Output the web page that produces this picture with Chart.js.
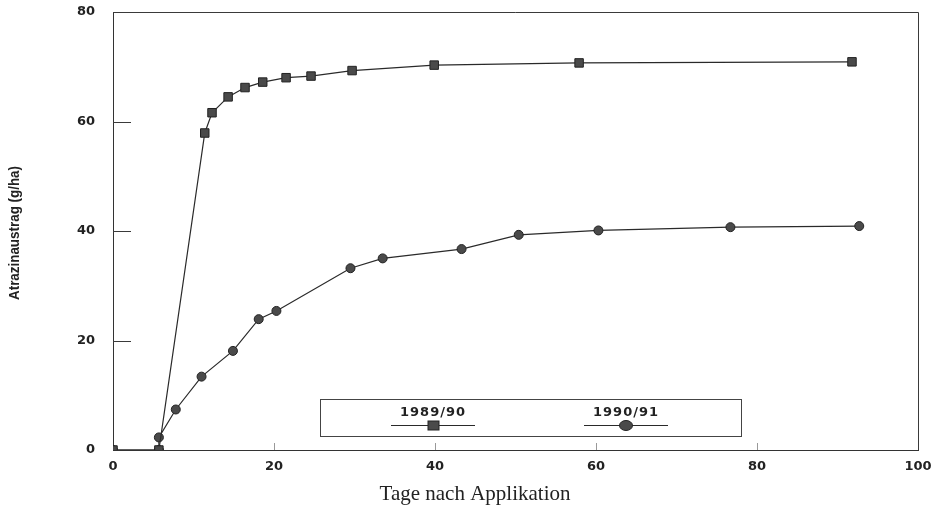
<!DOCTYPE html>
<html><head><meta charset="utf-8">
<script src="https://cdn.jsdelivr.net/npm/chart.js@4.4.1/dist/chart.umd.min.js"></script>
<style>html,body{margin:0;padding:0;background:#fff;}#wrap{width:935px;height:510px;}</style>
</head><body><div id="wrap"><canvas id="c" width="935" height="510"></canvas></div>
<script>
const seriesLabels = ['1989/90', '1990/91'];
const days8990 = [0, 5.7, 11.4, 12.3, 14.3, 16.4, 18.6, 21.5, 24.6, 29.7, 39.9, 57.9, 91.8];
const vals8990 = [0, 0, 57.9, 61.6, 64.5, 66.2, 67.2, 68.0, 68.3, 69.3, 70.3, 70.7, 70.9];
const days9091 = [0, 5.7, 5.7, 7.8, 11.0, 14.9, 18.1, 20.3, 29.5, 33.5, 43.3, 50.4, 60.3, 76.7, 92.7];
const vals9091 = [0, 0, 2.3, 7.4, 13.4, 18.1, 23.9, 25.4, 33.2, 35.0, 36.7, 39.3, 40.1, 40.7, 40.9];
const xTicks = [0, 20, 40, 60, 80, 100];
const yTicks = [0, 20, 40, 60, 80];
const xTitle = 'Tage nach Applikation';
const yTitle = 'Atrazinaustrag (g/ha)';

const pts = (xs, ys) => xs.map((x, i) => ({x: x, y: ys[i]}));
const LINE = '#2a2a2a';

const decor = {
  id: 'decor',
  afterDraw(chart) {
    const ctx = chart.ctx, a = chart.chartArea;
    const xs = chart.scales.x, ys = chart.scales.y;
    ctx.save();
    ctx.strokeStyle = '#3a3a3a'; ctx.lineWidth = 1;
    ctx.beginPath();
    ctx.moveTo(a.left, a.top + 0.5); ctx.lineTo(a.right + 0.5, a.top + 0.5); ctx.lineTo(a.right + 0.5, a.bottom);
    ctx.stroke();
    ctx.beginPath();
    yTicks.forEach(v => { if (v > 0 && v < 80) { const p = Math.round(ys.getPixelForValue(v)) + 0.5; ctx.moveTo(a.left, p); ctx.lineTo(a.left + 18, p); } });
    ctx.stroke();
    ctx.strokeStyle = '#999';
    ctx.beginPath();
    xTicks.forEach(v => { if (v > 0 && v < 100) { const p = Math.round(xs.getPixelForValue(v)) + 0.5; ctx.moveTo(p, a.bottom); ctx.lineTo(p, a.bottom - 7); } });
    ctx.stroke();
    ctx.fillStyle = '#222';
    ctx.font = '21px "Liberation Serif", "Times New Roman", serif';
    ctx.textAlign = 'center'; ctx.textBaseline = 'middle';
    ctx.fillText(xTitle, 475, 494);
    ctx.save();
    ctx.translate(15, 233); ctx.rotate(-Math.PI / 2);
    ctx.font = 'bold 15px "Liberation Sans Narrow", "Arial Narrow", "Liberation Sans", sans-serif';
    const w = ctx.measureText(yTitle).width;
    if (w > 134) ctx.scale(134 / w, 1);
    ctx.fillText(yTitle, 0, 0);
    ctx.restore();
    ctx.strokeStyle = '#444'; ctx.lineWidth = 1;
    ctx.strokeRect(320.5, 399.5, 421, 37);
    const centers = [433, 626];
    chart.data.datasets.forEach((ds, i) => {
      const cx = centers[i];
      ctx.fillStyle = '#222';
      ctx.font = 'bold 13px "DejaVu Sans", sans-serif';
      try { ctx.letterSpacing = '1px'; } catch (e) {}
      ctx.fillText(ds.label, cx, 413);
      try { ctx.letterSpacing = '0px'; } catch (e) {}
      ctx.strokeStyle = LINE; ctx.lineWidth = 1;
      ctx.beginPath(); ctx.moveTo(cx - 42, 425.5); ctx.lineTo(cx + 42, 425.5); ctx.stroke();
      ctx.fillStyle = '#4a4a4a'; ctx.strokeStyle = '#222';
      if (ds.pointStyle === 'rect') {
        ctx.fillRect(cx - 5, 421, 11, 9); ctx.strokeRect(cx - 5, 421, 11, 9);
      } else {
        ctx.beginPath(); ctx.ellipse(cx, 425.5, 6.5, 5, 0, 0, Math.PI * 2); ctx.fill(); ctx.stroke();
      }
    });
    ctx.restore();
  }
};

new Chart(document.getElementById('c'), {
  type: 'line',
  data: {
    datasets: [
      { label: seriesLabels[0], data: pts(days8990, vals8990), borderColor: LINE, borderWidth: 1.2,
        pointStyle: 'rect', pointRadius: 6, pointBackgroundColor: '#4a4a4a', pointBorderColor: '#222', pointBorderWidth: 1, tension: 0 },
      { label: seriesLabels[1], data: pts(days9091, vals9091), borderColor: LINE, borderWidth: 1.2,
        pointStyle: 'circle', pointRadius: 4.5, pointBackgroundColor: '#4a4a4a', pointBorderColor: '#222', pointBorderWidth: 1, tension: 0 }
    ]
  },
  options: {
    responsive: false, animation: false, devicePixelRatio: 1,
    layout: { padding: { top: 12, right: 17, left: 0, bottom: 0 } },
    plugins: { legend: { display: false }, tooltip: { enabled: false } },
    scales: {
      x: { type: 'linear', min: 0, max: 100,
        afterBuildTicks: s => { s.ticks = xTicks.map(v => ({ value: v })); },
        afterFit: s => { s.height = 60; s.paddingLeft = 0; s.paddingRight = 0; },
        grid: { display: false, drawTicks: false },
        border: { display: true, color: '#333', width: 1 },
        ticks: { padding: 9, color: '#222', font: { family: 'DejaVu Sans', size: 13, weight: 'bold' }, maxRotation: 0 } },
      y: { type: 'linear', min: 0, max: 80,
        afterBuildTicks: s => { s.ticks = yTicks.map(v => ({ value: v })); },
        afterFit: s => { s.width = 113; s.paddingTop = 0; s.paddingBottom = 0; },
        grid: { display: false, drawTicks: false },
        border: { display: true, color: '#333', width: 1 },
        ticks: { padding: 18, color: '#222', font: { family: 'DejaVu Sans', size: 13, weight: 'bold' } } }
    }
  },
  plugins: [decor]
});
</script></body></html>
